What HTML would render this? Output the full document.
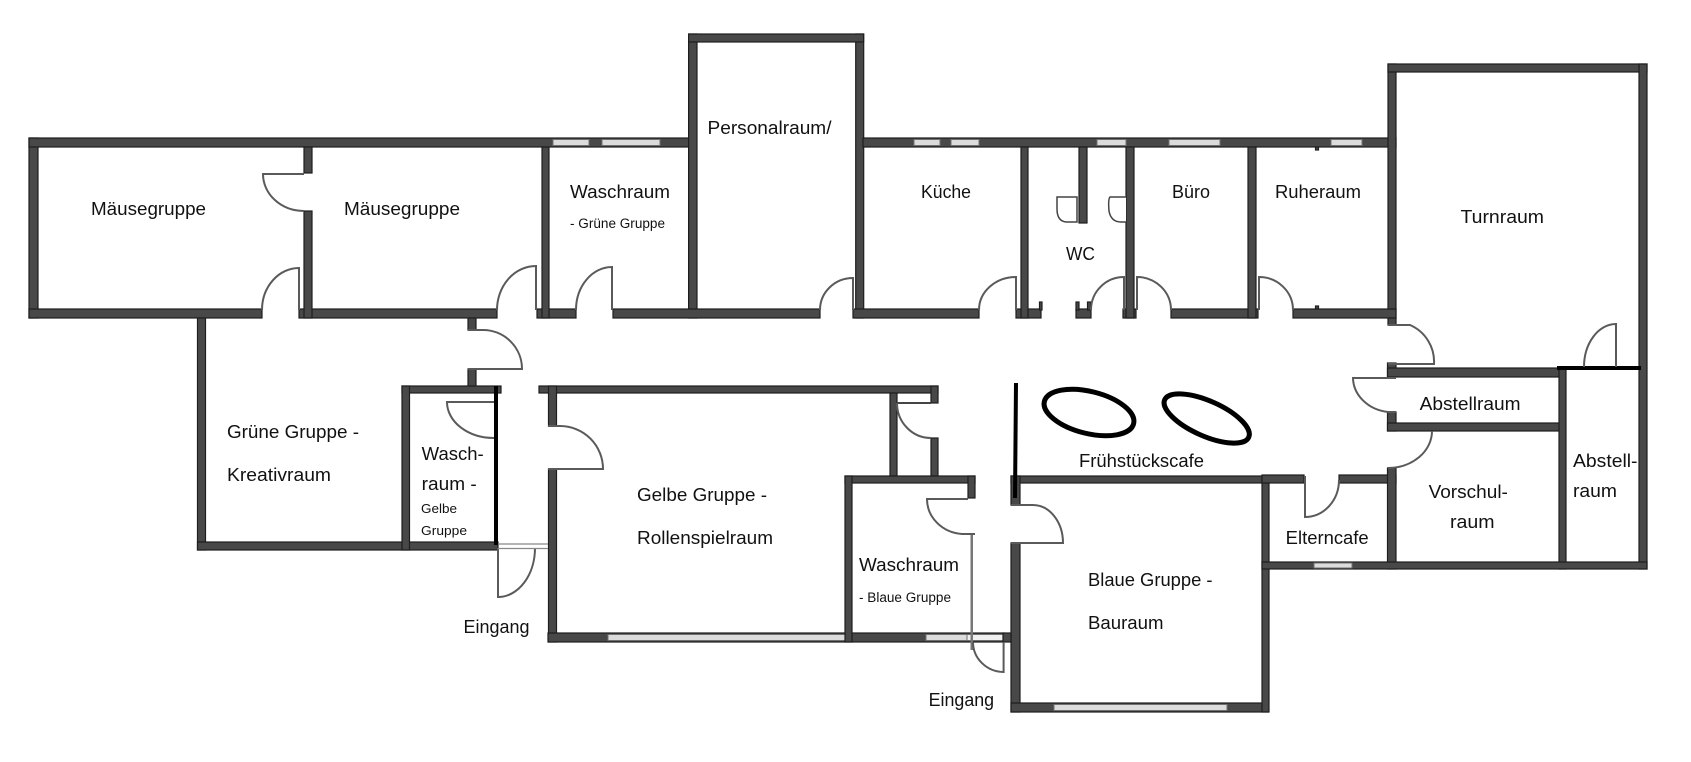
<!DOCTYPE html>
<html><head><meta charset="utf-8"><style>
html,body{margin:0;padding:0;background:#fff;}
svg{display:block;}
.w{fill:#484848;stroke:#1e1e1e;stroke-width:1.2;}
.win{fill:#dcdcdc;stroke:#707070;stroke-width:1;}
.d{fill:none;stroke:#5a5a5a;stroke-width:2;}
.k{fill:#000;}
text{font-family:"Liberation Sans",sans-serif;fill:#111;}
.t{font-size:18px;}
.s{font-size:13.5px;}
</style></head><body>
<svg width="1691" height="762" viewBox="0 0 1691 762" xmlns="http://www.w3.org/2000/svg">
<rect x="0" y="0" width="1691" height="762" fill="#fff"/>

<!-- top row walls -->
<rect class="w" x="29" y="138" width="9" height="180"/>
<rect class="w" x="29" y="138" width="660" height="9"/>
<rect class="win" x="553" y="139.5" width="36" height="6"/>
<rect class="win" x="602" y="139.5" width="58" height="6"/>

<rect class="w" x="688.6" y="34" width="8.4" height="284"/>
<rect class="w" x="855.7" y="34" width="8" height="284"/>
<rect class="w" x="688.6" y="34" width="175" height="8"/>

<rect class="w" x="863" y="138" width="533" height="9"/>
<rect class="win" x="914" y="139.5" width="26" height="6"/>
<rect class="win" x="951" y="139.5" width="28" height="6"/>
<rect class="win" x="1097" y="139.5" width="29" height="6"/>
<rect class="win" x="1169" y="139.5" width="51" height="6"/>
<rect class="win" x="1331" y="139.5" width="31" height="6"/>

<rect class="w" x="1388" y="64" width="8" height="261"/>
<rect class="w" x="1388" y="64" width="259" height="8"/>
<rect class="w" x="1639" y="64" width="8" height="505"/>

<!-- bottom of top row -->
<rect class="w" x="29" y="309" width="233" height="9"/>
<rect class="w" x="299" y="309" width="198" height="9"/>
<rect class="w" x="537" y="309" width="39" height="9"/>
<rect class="w" x="613" y="309" width="207" height="9"/>
<rect class="w" x="853" y="309" width="126" height="9"/>
<rect class="w" x="1016" y="309" width="25" height="9"/>
<rect class="w" x="1039.5" y="302" width="2.5" height="8"/>
<rect class="w" x="1076" y="309" width="15" height="9"/>
<rect class="w" x="1076" y="302" width="3" height="8"/>
<rect class="w" x="1087.5" y="302" width="3" height="8"/>
<rect class="w" x="1123" y="309" width="13" height="9"/>
<rect class="w" x="1171" y="309" width="87" height="9"/>
<rect class="w" x="1293" y="309" width="103" height="9"/>
<rect class="w" x="1315.5" y="147" width="3" height="3"/>
<rect class="w" x="1315.5" y="306" width="3" height="3"/>

<!-- verticals top row -->
<rect class="w" x="304" y="147" width="8" height="26"/>
<rect class="w" x="304" y="211" width="8" height="107"/>
<rect class="w" x="542" y="147" width="7" height="171"/>
<rect class="w" x="1021" y="147" width="7" height="171"/>
<rect class="w" x="1079" y="147" width="8" height="76"/>
<rect class="w" x="1126" y="147" width="8" height="171"/>
<rect class="w" x="1248" y="147" width="8" height="171"/>

<!-- middle left -->
<rect class="w" x="197.5" y="318" width="8" height="232"/>
<rect class="w" x="197.5" y="542" width="300.5" height="8"/>
<rect class="w" x="468" y="318" width="8" height="12"/>
<rect class="w" x="468" y="369" width="8" height="18"/>
<rect class="w" x="402" y="386" width="99" height="7"/>
<rect class="w" x="402" y="386" width="7.5" height="164"/>
<rect class="k" x="494" y="386" width="4" height="159"/>

<!-- Gelbe -->
<rect class="w" x="539" y="386" width="399" height="7"/>
<rect class="w" x="548.5" y="386" width="8" height="40"/>
<rect class="w" x="548.5" y="469" width="8" height="173"/>
<rect class="w" x="548" y="633" width="456" height="9"/>
<rect class="win" x="608" y="634.5" width="237" height="6"/>
<rect class="win" x="926" y="634.5" width="41" height="6"/>
<rect class="win" x="967" y="634.5" width="36" height="6" style="fill:#f0f0f0"/>
<rect class="w" x="890" y="393" width="7" height="83"/>
<rect class="w" x="931" y="386" width="7" height="17"/>
<rect class="w" x="931" y="438" width="7" height="38"/>
<line x1="897" y1="403" x2="931" y2="403" stroke="#444" stroke-width="2"/>

<!-- Waschraum blau -->
<rect class="w" x="845" y="476" width="130" height="7"/>
<rect class="w" x="845" y="476" width="7" height="166"/>
<rect class="w" x="968" y="476" width="7" height="22"/>
<rect x="970.5" y="534" width="2.5" height="116" fill="#777"/>

<!-- Blaue -->
<rect class="w" x="1011" y="476" width="257" height="7"/>
<rect class="w" x="1011" y="476" width="9" height="29"/>
<rect class="w" x="1011" y="543" width="9" height="169"/>
<rect class="w" x="1003" y="633" width="8" height="9"/>
<rect class="w" x="1011" y="703" width="257" height="9"/>
<rect class="win" x="1054" y="704.5" width="173" height="6"/>
<rect class="w" x="1262" y="476" width="7" height="236"/>
<polygon class="k" points="1014,383 1018,383 1017,498 1013,498"/>

<!-- right block -->
<rect class="w" x="1262" y="475" width="42" height="8"/>
<rect class="w" x="1339" y="475" width="57" height="8"/>
<rect class="w" x="1387.5" y="468" width="8.5" height="101"/>
<rect class="w" x="1387.5" y="363" width="8.5" height="14"/>
<rect class="w" x="1387.5" y="412" width="8.5" height="19"/>
<rect class="w" x="1387.5" y="368" width="172" height="9"/>
<rect class="w" x="1387.5" y="423" width="172" height="8"/>
<rect class="w" x="1559" y="367" width="7" height="202"/>
<rect class="k" x="1557" y="366" width="84" height="4"/>
<rect class="w" x="1262" y="562" width="385" height="7"/>
<rect class="win" x="1314" y="563" width="38" height="5"/>

<!-- doors -->
<path class="d" d="M304,174 H263 A41 37 0 0 0 304 211"/>
<path class="d" d="M299,310 V268 A37 42 0 0 0 262 310"/>
<path class="d" d="M536,310 V266 A39 44 0 0 0 497 310"/>
<path class="d" d="M612,310 V267 A36 43 0 0 0 576 310"/>
<path class="d" d="M853,310 V278 A33 32 0 0 0 820 310"/>
<path class="d" d="M1016,310 V277 A37 33 0 0 0 979 310"/>
<path class="d" d="M1124,310 V277 A33 33 0 0 0 1091 310"/>
<path class="d" d="M1137,310 V277 A34 33 0 0 1 1171 310"/>
<path class="d" d="M1259,310 V277 A34 33 0 0 1 1293 310"/>
<path class="d" d="M468,330 H483 A39 39 0 0 1 522 369 H468"/>
<path class="d" d="M494,402 H447 A47 36 0 0 0 494 438"/>
<path class="d" d="M548,426 H560 A43 43 0 0 1 603 469 H548"/>
<path class="d" d="M498,548 V597 A37 49 0 0 0 535 548"/>
<path d="M498,544 H548 M498,548.5 H548" stroke="#888" stroke-width="1.3" fill="none"/>
<path class="d" d="M897,403 A34 35 0 0 0 931 438"/>
<path class="d" d="M968,499 H927 A38 35 0 0 0 962 534 H975"/>
<path class="d" d="M1011,505 H1033 A30 38 0 0 1 1063 543 H1011"/>
<path class="d" d="M1003.6,642 V672 A31 30 0 0 1 973 642"/>
<path class="d" d="M1388,325 H1410 A40 40 0 0 1 1434 364 H1388"/>
<path class="d" d="M1396,378 H1353 A40 35 0 0 0 1388 412 H1396"/>
<path class="d" d="M1432,431 A44 37 0 0 1 1388 468"/>
<path class="d" d="M1305,476 V517 A34 37 0 0 0 1339 480"/>
<path class="d" d="M1616,367 V324 A32 43 0 0 0 1584 367"/>

<!-- toilets -->
<path d="M1057,197 H1077 V222 H1066 Q1057,221 1057,209 Z" fill="#fff" stroke="#444" stroke-width="1.5"/>
<path d="M1126,197 H1110 Q1108,199 1109,211 Q1111,222 1121,222 H1126" fill="#fff" stroke="#444" stroke-width="1.5"/>

<!-- tables -->
<ellipse cx="1089" cy="412.5" rx="46" ry="21" transform="rotate(14 1089 412.5)" fill="none" stroke="#000" stroke-width="5"/>
<ellipse cx="1206.7" cy="418.5" rx="46" ry="17.5" transform="rotate(24 1206.7 418.5)" fill="none" stroke="#000" stroke-width="5"/>

<!-- labels -->
<text class="t" x="91" y="215" textLength="115" lengthAdjust="spacingAndGlyphs">Mäusegruppe</text>
<text class="t" x="344" y="215" textLength="116" lengthAdjust="spacingAndGlyphs">Mäusegruppe</text>
<text class="t" x="570" y="198" textLength="100" lengthAdjust="spacingAndGlyphs">Waschraum</text>
<text class="s" x="570" y="228" textLength="95" lengthAdjust="spacingAndGlyphs">- Grüne Gruppe</text>
<text class="t" x="707.5" y="134" textLength="124" lengthAdjust="spacingAndGlyphs">Personalraum/</text>
<text class="t" x="921" y="198" textLength="50" lengthAdjust="spacingAndGlyphs">Küche</text>
<text class="t" x="1066" y="260" textLength="29" lengthAdjust="spacingAndGlyphs">WC</text>
<text class="t" x="1172" y="198" textLength="38" lengthAdjust="spacingAndGlyphs">Büro</text>
<text class="t" x="1275" y="198" textLength="86" lengthAdjust="spacingAndGlyphs">Ruheraum</text>
<text class="t" x="1460.5" y="223" textLength="83.5" lengthAdjust="spacingAndGlyphs">Turnraum</text>
<text class="t" x="227" y="438" textLength="132" lengthAdjust="spacingAndGlyphs">Grüne Gruppe -</text>
<text class="t" x="227" y="481" textLength="104" lengthAdjust="spacingAndGlyphs">Kreativraum</text>
<text class="t" x="421.7" y="460" textLength="62" lengthAdjust="spacingAndGlyphs">Wasch-</text>
<text class="t" x="421.7" y="490" textLength="55" lengthAdjust="spacingAndGlyphs">raum -</text>
<text x="421" y="513" font-size="13" textLength="36" lengthAdjust="spacingAndGlyphs">Gelbe</text>
<text x="421" y="535" font-size="13" textLength="46" lengthAdjust="spacingAndGlyphs">Gruppe</text>
<text class="t" x="463.5" y="633" textLength="66" lengthAdjust="spacingAndGlyphs">Eingang</text>
<text class="t" x="637" y="501" textLength="130" lengthAdjust="spacingAndGlyphs">Gelbe Gruppe -</text>
<text class="t" x="637" y="544" textLength="136" lengthAdjust="spacingAndGlyphs">Rollenspielraum</text>
<text class="t" x="859" y="571" textLength="100" lengthAdjust="spacingAndGlyphs">Waschraum</text>
<text class="s" x="859" y="602" textLength="92" lengthAdjust="spacingAndGlyphs">- Blaue Gruppe</text>
<text class="t" x="928.6" y="706" textLength="65.5" lengthAdjust="spacingAndGlyphs">Eingang</text>
<text class="t" x="1079" y="467" textLength="125" lengthAdjust="spacingAndGlyphs">Frühstückscafe</text>
<text class="t" x="1088" y="586" textLength="124.5" lengthAdjust="spacingAndGlyphs">Blaue Gruppe -</text>
<text class="t" x="1088" y="629" textLength="75.5" lengthAdjust="spacingAndGlyphs">Bauraum</text>
<text class="t" x="1285.7" y="544" textLength="83" lengthAdjust="spacingAndGlyphs">Elterncafe</text>
<text class="t" x="1419.6" y="410" textLength="101" lengthAdjust="spacingAndGlyphs">Abstellraum</text>
<text class="t" x="1428.6" y="498" textLength="79.3" lengthAdjust="spacingAndGlyphs">Vorschul-</text>
<text class="t" x="1450" y="528" textLength="44.6" lengthAdjust="spacingAndGlyphs">raum</text>
<text class="t" x="1573" y="467" textLength="64.5" lengthAdjust="spacingAndGlyphs">Abstell-</text>
<text class="t" x="1573" y="497" textLength="44" lengthAdjust="spacingAndGlyphs">raum</text>
</svg>
</body></html>
